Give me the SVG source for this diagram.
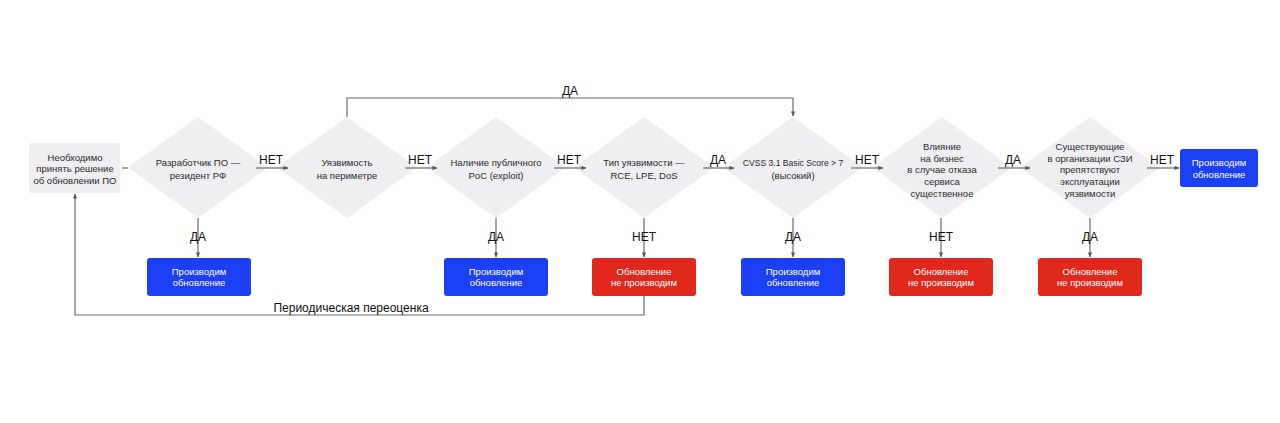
<svg xmlns="http://www.w3.org/2000/svg" width="1280" height="423" viewBox="0 0 1280 423">
<defs>
<style>
.bg{fill:#ffffff}
.dia{fill:#efeff1}
.start{fill:#efeff1}
.blue{fill:#1b3ff2}
.red{fill:#e0281d}
.t{font-family:"Liberation Sans",Arial,sans-serif;font-size:9.5px;fill:#2a2a2a;text-anchor:middle}
.tw{font-family:"Liberation Sans",Arial,sans-serif;font-size:9.5px;fill:#ffffff;text-anchor:middle}
.lbl{font-family:"Liberation Sans",Arial,sans-serif;font-size:12px;fill:#111111;text-anchor:middle}
.ln{fill:none;stroke:#6a6a6a;stroke-width:1.2}
</style>
<marker id="ah" viewBox="0 0 6 6" refX="5.5" refY="3" markerWidth="5" markerHeight="5" orient="auto" markerUnits="userSpaceOnUse">
<path d="M0,0.5 L6,3 L0,5.5 Z" fill="#555555"/>
</marker>
</defs>
<rect class="bg" x="0" y="0" width="1280" height="423"/>

<g id="start">
<rect class="start" x="29" y="143" width="91" height="50" rx="2"/>
<text class="t" x="75" y="160.5">Необходимо</text>
<text class="t" x="75" y="172.2">принять решение</text>
<text class="t" x="75" y="183.9">об обновлении ПО</text>
</g>

<g id="d1">
<polygon class="dia" points="198,117 268,167.5 198,218 128,167.5"/>
<text class="t" x="198" y="165.5">Разработчик ПО —</text>
<text class="t" x="198" y="178.5">резидент РФ</text>
</g>
<g id="d2">
<polygon class="dia" points="347,117 417,167.5 347,218 277,167.5"/>
<text class="t" x="347" y="165.5">Уязвимость</text>
<text class="t" x="347" y="178.5">на периметре</text>
</g>
<g id="d3">
<polygon class="dia" points="496,117 566,167.5 496,218 426,167.5"/>
<text class="t" x="496" y="165.5">Наличие публичного</text>
<text class="t" x="496" y="178.5">PoC (exploit)</text>
</g>
<g id="d4">
<polygon class="dia" points="644,117 714,167.5 644,218 574,167.5"/>
<text class="t" x="644" y="165.5">Тип уязвимости —</text>
<text class="t" x="644" y="178.5">RCE, LPE, DoS</text>
</g>
<g id="d5">
<polygon class="dia" points="793,117 863,167.5 793,218 723,167.5"/>
<text class="t" x="793" y="165.5" style="font-size:8.6px">CVSS 3.1 Basic Score &gt; 7</text>
<text class="t" x="793" y="178.5">(высокий)</text>
</g>
<g id="d6">
<polygon class="dia" points="942,117 1012,167.5 942,218 872,167.5"/>
<text class="t" x="942" y="150">Влияние</text>
<text class="t" x="942" y="161.6">на бизнес</text>
<text class="t" x="942" y="173.3">в случае отказа</text>
<text class="t" x="942" y="185">сервиса</text>
<text class="t" x="942" y="196.5">существенное</text>
</g>
<g id="d7">
<polygon class="dia" points="1090,117 1160,167.5 1090,218 1020,167.5"/>
<text class="t" x="1090" y="150">Существующие</text>
<text class="t" x="1090" y="161.6">в организации СЗИ</text>
<text class="t" x="1090" y="173.3">препятствуют</text>
<text class="t" x="1090" y="185">эксплуатации</text>
<text class="t" x="1090" y="196.5">уязвимости</text>
</g>

<g id="final">
<rect class="blue" x="1180" y="149" width="78" height="38" rx="3"/>
<text class="tw" x="1219" y="165.5">Производим</text>
<text class="tw" x="1219" y="177.5">обновление</text>
</g>

<g id="b1">
<rect class="blue" x="147" y="258" width="104" height="38" rx="3"/>
<text class="tw" x="199" y="274.5">Производим</text>
<text class="tw" x="199" y="286">обновление</text>
</g>
<g id="b3">
<rect class="blue" x="444" y="258" width="104" height="38" rx="3"/>
<text class="tw" x="496" y="274.5">Производим</text>
<text class="tw" x="496" y="286">обновление</text>
</g>
<g id="b4">
<rect class="red" x="592" y="258" width="104" height="38" rx="3"/>
<text class="tw" x="644" y="274.5">Обновление</text>
<text class="tw" x="644" y="286">не производим</text>
</g>
<g id="b5">
<rect class="blue" x="741" y="258" width="104" height="38" rx="3"/>
<text class="tw" x="793" y="274.5">Производим</text>
<text class="tw" x="793" y="286">обновление</text>
</g>
<g id="b6">
<rect class="red" x="889" y="258" width="104" height="38" rx="3"/>
<text class="tw" x="941" y="274.5">Обновление</text>
<text class="tw" x="941" y="286">не производим</text>
</g>
<g id="b7">
<rect class="red" x="1038" y="258" width="104" height="38" rx="3"/>
<text class="tw" x="1090" y="274.5">Обновление</text>
<text class="tw" x="1090" y="286">не производим</text>
</g>

<g id="connectors">
<line class="ln" x1="122" y1="168" x2="128" y2="168"/>
<line class="ln" x1="256" y1="168" x2="288" y2="168" marker-end="url(#ah)"/>
<line class="ln" x1="405" y1="168" x2="437" y2="168" marker-end="url(#ah)"/>
<line class="ln" x1="554" y1="168" x2="586" y2="168" marker-end="url(#ah)"/>
<line class="ln" x1="703" y1="168" x2="734" y2="168" marker-end="url(#ah)"/>
<line class="ln" x1="851" y1="168" x2="883" y2="168" marker-end="url(#ah)"/>
<line class="ln" x1="998" y1="168" x2="1030" y2="168" marker-end="url(#ah)"/>
<line class="ln" x1="1147" y1="168" x2="1179" y2="168" marker-end="url(#ah)"/>
<text class="lbl" x="271" y="164">НЕТ</text>
<text class="lbl" x="420" y="164">НЕТ</text>
<text class="lbl" x="569" y="164">НЕТ</text>
<text class="lbl" x="718" y="164">ДА</text>
<text class="lbl" x="867" y="164">НЕТ</text>
<text class="lbl" x="1013" y="164">ДА</text>
<text class="lbl" x="1162" y="164">НЕТ</text>

<line class="ln" x1="198" y1="218" x2="198" y2="257" marker-end="url(#ah)"/>
<line class="ln" x1="496" y1="218" x2="496" y2="257" marker-end="url(#ah)"/>
<line class="ln" x1="644" y1="218" x2="644" y2="257" marker-end="url(#ah)"/>
<line class="ln" x1="793" y1="218" x2="793" y2="257" marker-end="url(#ah)"/>
<line class="ln" x1="941" y1="218" x2="941" y2="257" marker-end="url(#ah)"/>
<line class="ln" x1="1090" y1="218" x2="1090" y2="257" marker-end="url(#ah)"/>
<text class="lbl" x="198" y="241">ДА</text>
<text class="lbl" x="496" y="241">ДА</text>
<text class="lbl" x="644" y="241">НЕТ</text>
<text class="lbl" x="793" y="241">ДА</text>
<text class="lbl" x="941" y="241">НЕТ</text>
<text class="lbl" x="1090" y="241">ДА</text>

<polyline class="ln" points="347,117 347,98 793,98 793,116" marker-end="url(#ah)"/>
<text class="lbl" x="570" y="95">ДА</text>

<polyline class="ln" points="644,296 644,315 75,315 75,194" marker-end="url(#ah)"/>
<text class="lbl" x="351" y="312">Периодическая переоценка</text>
</g>
</svg>
